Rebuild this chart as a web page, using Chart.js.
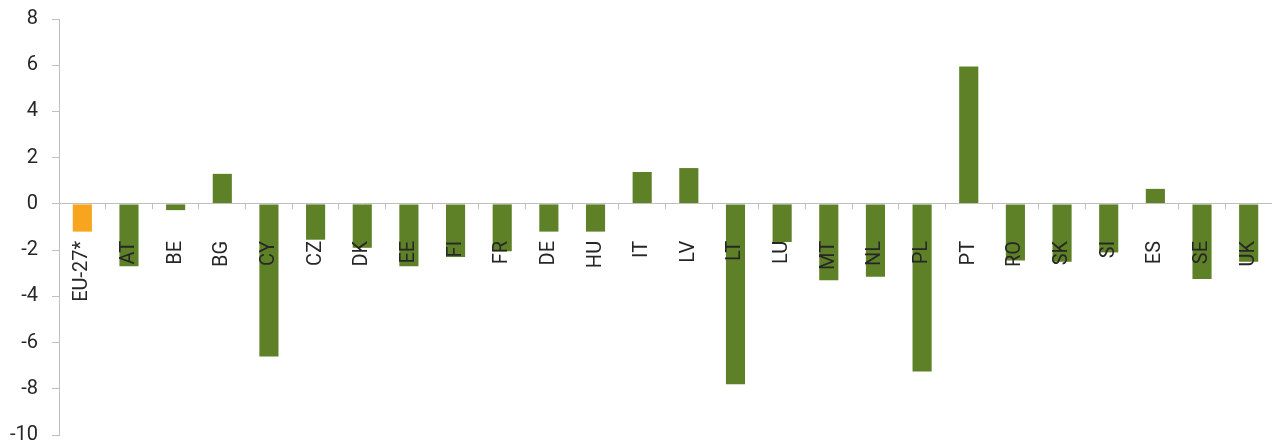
<!DOCTYPE html>
<html><head><meta charset="utf-8">
<script src="https://cdn.jsdelivr.net/npm/chart.js@4/dist/chart.umd.min.js"></script>
<style>html,body{margin:0;padding:0;background:#fff;overflow:hidden;}</style>
</head><body>
<canvas id="c" width="1272" height="443"></canvas>
<script>
const categories = ['EU-27*','AT','BE','BG','CY','CZ','DK','EE','FI','FR','DE','HU','IT','LV','LT','LU','MT','NL','PL','PT','RO','SK','SI','ES','SE','UK'];
const values = [-1.2,-2.7,-0.27,1.3,-6.6,-1.55,-1.9,-2.7,-2.3,-2.05,-1.2,-1.2,1.38,1.55,-7.8,-1.65,-3.3,-3.15,-7.25,5.95,-2.45,-2.5,-2.1,0.65,-3.25,-2.5];
const highlighted = ['EU-27*'];
const yMin = -10, yMax = 8, yStep = 2;

const GREEN = '#5e8128';
const ORANGE = '#f7a51e';
const AXIS = '#bfbfbf';
const TEXT = '#262626';
const FONT = 'Roboto, "Open Sans", sans-serif';

new Chart(document.getElementById('c'), {
  type: 'bar',
  data: {
    labels: categories,
    datasets: [{
      data: values,
      backgroundColor: categories.map(c => highlighted.includes(c) ? ORANGE : GREEN),
      barPercentage: 0.41,
      categoryPercentage: 1.0,
      borderWidth: 0
    }]
  },
  options: {
    responsive: false,
    animation: false,
    events: [],
    layout: { padding: { top: 19, right: -2, bottom: 8, left: 0 } },
    plugins: { legend: { display: false }, tooltip: { enabled: false } },
    scales: {
      x: {
        position: { y: 0 },
        afterFit: s => { s.paddingLeft = 0; s.paddingRight = 0; s.paddingTop = 0; s.paddingBottom = 0; },
        grid: { display: true, offset: true, drawOnChartArea: false, drawTicks: true, tickLength: 5, color: AXIS, z: 1 },
        border: { display: true, color: AXIS, width: 1, z: 1 },
        ticks: {
          z: 1,
          autoSkip: false, minRotation: 90, maxRotation: 90, padding: 32,
          color: TEXT, font: { family: FONT, size: 20 }
        }
      },
      y: {
        min: yMin, max: yMax,
        afterFit: s => { s.width = 59; s.paddingTop = 0; s.paddingBottom = 0; },
        grid: { display: true, drawOnChartArea: false, drawTicks: true, tickLength: 7, color: AXIS },
        border: { display: true, color: AXIS, width: 1 },
        ticks: { stepSize: yStep, padding: 14, color: TEXT, font: { family: FONT, size: 20 } }
      }
    }
  }
});
</script>
</body></html>
